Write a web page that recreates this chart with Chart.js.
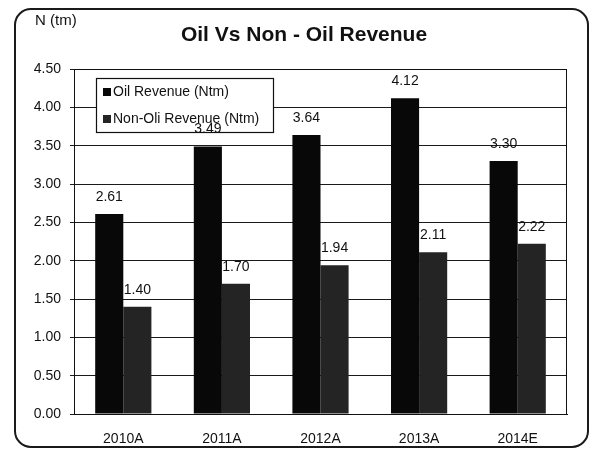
<!DOCTYPE html>
<html>
<head>
<meta charset="utf-8">
<title>Oil Vs Non - Oil Revenue</title>
<script src="https://cdn.jsdelivr.net/npm/chart.js@4.4.1/dist/chart.umd.min.js"></script>
<style>
  html, body { margin: 0; padding: 0; background: #ffffff; }
  #wrap { position: relative; width: 595px; height: 453px; }
</style>
</head>
<body>
<div id="wrap"><canvas id="chart" width="595" height="453"></canvas></div>
<script>
// Revenue by year, N trillion
const years = ['2010A', '2011A', '2012A', '2013A', '2014E'];
const oilRevenue = [2.61, 3.49, 3.64, 4.12, 3.30];
const nonOilRevenue = [1.40, 1.70, 1.94, 2.11, 2.22];
const seriesNames = ['Oil Revenue (Ntm)', 'Non-Oli Revenue (Ntm)'];
const yTicks = [0, 0.5, 1, 1.5, 2, 2.5, 3, 3.5, 4, 4.5];

const FONT = '"Liberation Sans", Arial, Helvetica, sans-serif';

// Frame, title, unit label, plot border, value labels and boxed legend
const decorations = {
  id: 'decorations',
  beforeDraw(chart) {
    const ctx = chart.ctx;
    ctx.save();
    ctx.fillStyle = '#ffffff';
    ctx.fillRect(0, 0, chart.width, chart.height);
    ctx.restore();
  },
  afterDatasetsDraw(chart) {
    const ctx = chart.ctx;
    const area = chart.chartArea;
    ctx.save();

    // plot area border
    ctx.strokeStyle = '#111111';
    ctx.lineWidth = 1;
    ctx.strokeRect(area.left + 0.5, area.top + 0.5, area.right - area.left - 1, area.bottom - area.top);

    // legend box background
    const lx = 96, ly = 78, lw = 177, lh = 54;
    ctx.fillStyle = '#ffffff';
    ctx.fillRect(lx, ly, lw, lh);

    // value labels above each bar
    ctx.fillStyle = '#111111';
    ctx.font = '14px ' + FONT;
    ctx.textAlign = 'center';
    ctx.textBaseline = 'middle';
    chart.data.datasets.forEach((ds, i) => {
      const meta = chart.getDatasetMeta(i);
      meta.data.forEach((bar, j) => {
        ctx.fillText(ds.data[j].toFixed(2), bar.x, bar.y - 17);
      });
    });

    // legend border and entries
    ctx.strokeStyle = '#111111';
    ctx.lineWidth = 1.2;
    ctx.strokeRect(lx + 0.5, ly + 0.5, lw, lh);
    ctx.textAlign = 'left';
    ctx.font = '14px ' + FONT;
    chart.data.datasets.forEach((ds, i) => {
      const cy = ly + 14 + i * 27;
      ctx.fillStyle = ds.backgroundColor;
      ctx.fillRect(lx + 7, cy - 4, 8, 8);
      ctx.fillStyle = '#111111';
      ctx.fillText(ds.label, lx + 17, cy);
    });

    // outer rounded frame
    ctx.strokeStyle = '#1a1a1a';
    ctx.lineWidth = 2;
    ctx.beginPath();
    ctx.roundRect(15, 9, 573, 438, 16);
    ctx.stroke();

    // unit label and title
    ctx.fillStyle = '#111111';
    ctx.textAlign = 'left';
    ctx.font = '15px ' + FONT;
    ctx.fillText('N (tm)', 35, 21);
    ctx.textAlign = 'center';
    ctx.font = 'bold 21px ' + FONT;
    ctx.fillText('Oil Vs Non - Oil Revenue', 304, 35);

    ctx.restore();
  }
};

new Chart(document.getElementById('chart'), {
  type: 'bar',
  data: {
    labels: years,
    datasets: [
      {
        label: seriesNames[0],
        data: oilRevenue,
        backgroundColor: '#080808',
        borderWidth: 0
      },
      {
        label: seriesNames[1],
        data: nonOilRevenue,
        backgroundColor: '#242424',
        borderWidth: 0
      }
    ]
  },
  options: {
    responsive: false,
    animation: false,
    devicePixelRatio: 1,
    layout: { padding: { left: 0, right: 28, top: 69, bottom: 0 } },
    datasets: {
      bar: { categoryPercentage: 0.57, barPercentage: 1.0 }
    },
    plugins: {
      legend: { display: false },
      title: { display: false },
      tooltip: { enabled: false }
    },
    scales: {
      x: {
        grid: { display: false, drawTicks: false },
        border: { display: true, color: '#111111', width: 1 },
        ticks: {
          color: '#111111',
          font: { family: FONT, size: 14 },
          padding: 17
        },
        afterFit(scale) { scale.height = 39; }
      },
      y: {
        min: 0,
        max: 4.5,
        afterBuildTicks(scale) {
          scale.ticks = yTicks.map(v => ({ value: v }));
        },
        grid: {
          color: '#1a1a1a',
          lineWidth: 1,
          tickLength: 4,
          drawTicks: true
        },
        border: { display: true, color: '#111111', width: 1 },
        ticks: {
          color: '#111111',
          font: { family: FONT, size: 14 },
          padding: 9,
          callback: v => Number(v).toFixed(2)
        },
        afterFit(scale) { scale.width = 74; }
      }
    }
  },
  plugins: [decorations]
});
</script>
</body>
</html>
